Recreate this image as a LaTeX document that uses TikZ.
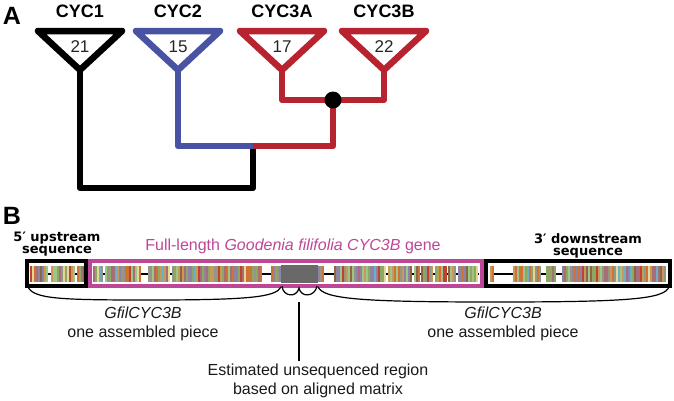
\documentclass[tikz,border=0pt]{standalone}
\usepackage{fontspec}
\setmainfont{Liberation Sans}
\newfontfamily\dejavu{DejaVu Sans}
\definecolor{cycblue}{RGB}{72,84,163}
\definecolor{cycred}{RGB}{183,36,48}
\definecolor{genepink}{RGB}{190,70,150}
\definecolor{gapgray}{RGB}{105,105,105}
\definecolor{s1}{RGB}{140,168,100}
\definecolor{s2}{RGB}{196,155,90}
\definecolor{s3}{RGB}{205,115,55}
\definecolor{s4}{RGB}{190,65,50}
\definecolor{s5}{RGB}{110,175,200}
\definecolor{s6}{RGB}{140,132,165}
\definecolor{s7}{RGB}{168,110,120}
\definecolor{s8}{RGB}{228,215,150}
\definecolor{s9}{RGB}{160,195,135}
\definecolor{s10}{RGB}{140,100,70}
\definecolor{s11}{RGB}{150,150,135}
\pgfmathdeclarerandomlist{seqcol}{{s1}{s2}{s3}{s4}{s5}{s6}{s7}{s8}{s9}{s10}{s11}{s1}{s2}{s6}{s7}{s9}{s11}{s3}}

\begin{document}
\begin{tikzpicture}[x=1pt,y=-1pt]
\tikzstyle{clade}=[line width=6.5pt,line join=round]
\tikzstyle{cladelab}=[font=\fontsize{18}{20}\selectfont\bfseries]
\tikzstyle{count}=[font=\fontsize{17}{20}\selectfont,text=black!85]
\tikzstyle{panel}=[font=\fontsize{25}{28}\selectfont\bfseries]
\tikzstyle{flank}=[font=\fontsize{13}{12}\selectfont\dejavu\bfseries,align=center]
\tikzstyle{note}=[font=\fontsize{16}{19}\selectfont,align=center,text=black!90]
\tikzstyle{frame}=[line width=4pt]
\tikzstyle{brace}=[line width=1.2pt]
\pgfmathsetseed{17}
\useasboundingbox (0,0) rectangle (674,400);

\node[panel] (pa) at (12,16) {A};
\foreach \n/\x/\c/\k/\lab in {1/80/black/21/CYC1,2/178/cycblue/15/CYC2,3/282/cycred/17/CYC3A,4/384/cycred/22/CYC3B}{
  \draw[clade,\c] (\x-42,31) -- (\x+42,31) -- (\x,70) coordinate (a\n) -- cycle;
  \node[count] (k\n) at (\x,47) {\k};
  \node[cladelab] (l\n) at (\x,11) {\lab};
}
\coordinate (root) at (253,188);
\coordinate (j23) at (253,146);
\coordinate (j3) at (333,100);
\draw[clade] (a1) |- (root) -- (j23);
\draw[clade,cycblue] (a2) |- (j23);
\draw[clade,cycred] (j23) -| (j3);
\draw[clade,cycred] (a3) |- (j3);
\draw[clade,cycred] (a4) |- (j3);
\fill (j3) circle (8.5pt);

\node[panel] (pb) at (12,216) {B};
\node[flank] (up) at (57,244) {5′ upstream\\sequence};
\node[flank] (down) at (588,246) {3′ downstream\\sequence};
\node[font=\fontsize{16}{19}\selectfont,text=genepink,anchor=base] (full) at (293,250) {Full-length \textit{Goodenia filifolia CYC3B} gene};

\draw[line width=1.6pt] (30,274) -- (84,274) (93,274) -- (479,274) (490,274) -- (665,274);
\foreach \a/\b in {30/47,51/73,77/83,93/102,105/139,148/168,172/261,271/279,318/322,334/384,388/411,414/418,421/432,435/445,448/455,458/477,490/493,513/539,546/554,562/664}{
  \pgfmathtruncatemacro{\m}{(\b-\a)/2}
  \foreach \i in {0,...,\m}{
    \pgfmathrandomitem{\sc}{seqcol}
    \fill[\sc] ({\a+2*\i},266) rectangle ++(2.1,16);
  }
}
\fill[gapgray] (281,265) rectangle (318,283);
\draw[frame] (27,261) rectangle (86,286);
\draw[frame,genepink] (90,261) rectangle (482,286);
\draw[frame] (486,261) rectangle (670,286);

\draw[brace] (28,287) .. controls (34,299) and (60,300) .. (150,300) .. controls (250,300) and (276,297) .. (281,287);
\draw[brace] (282,286) .. controls (283,297) and (297,298) .. (299,288) .. controls (301,298) and (315,297) .. (317,286);
\draw[brace] (318,287) .. controls (324,299) and (360,302) .. (495,302) .. controls (630,302) and (664,299) .. (669,287);
\coordinate (gaptip) at (299,302);
\node[note] (lpiece) at (143,323.5) {\textit{GfilCYC3B}\\one assembled piece};
\node[note] (rpiece) at (503,323.5) {\textit{GfilCYC3B}\\one assembled piece};
\node[note] (est) at (318,381) {Estimated unsequenced region\\based on aligned matrix};
\draw[brace] (gaptip) -- (gaptip |- est.north);
\end{tikzpicture}
\end{document}
